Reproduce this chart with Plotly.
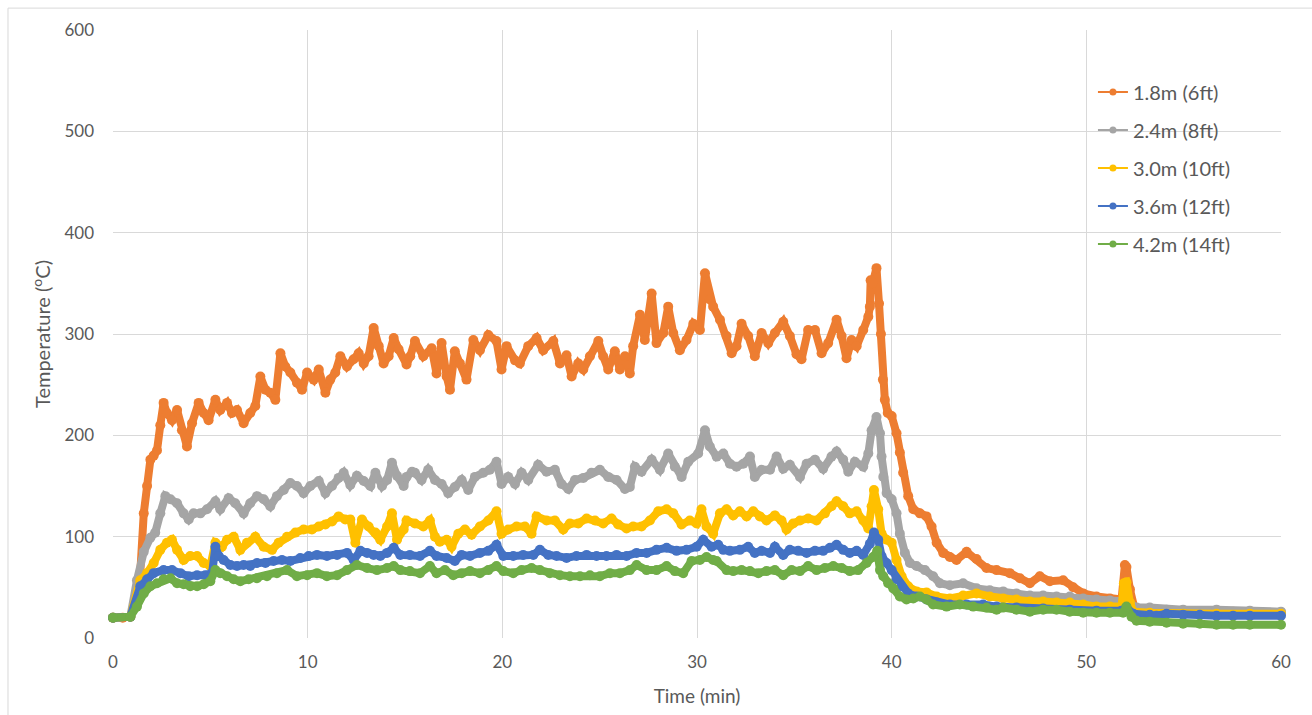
import plotly.graph_objects as go

# Ceiling-jet temperature at several distances, time in minutes
time_18 = [0, 0.5, 0.89, 1.23, 1.40, 1.58, 1.75, 1.92, 2.09, 2.26, 2.43, 2.60, 2.77, 3.03, 3.29, 3.54, 3.80,
           4.06, 4.40, 4.66, 4.91, 5.26, 5.51, 5.86, 6.11, 6.37, 6.71, 7.05, 7.31, 7.57, 7.83, 8.08, 8.34,
           8.60, 8.85, 9.11, 9.45, 9.71, 9.97, 10.31, 10.57, 10.91, 11.16, 11.42, 11.68, 12.02, 12.36, 12.62,
           12.88, 13.13, 13.39, 13.65, 13.90, 14.16, 14.42, 14.67, 15.08, 15.27, 15.51, 15.94, 16.37, 16.62,
           16.88, 17.14, 17.31, 17.56, 17.82, 18.16, 18.51, 18.85, 19.28, 19.70, 19.96, 20.22, 20.65, 20.90,
           21.33, 21.76, 22.10, 22.62, 22.96, 23.30, 23.56, 23.90, 24.16, 24.50, 24.93, 25.18, 25.44, 25.78,
           26.04, 26.30, 26.55, 26.72, 27.07, 27.32, 27.67, 27.92, 28.27, 28.52, 28.78, 29.12, 29.46, 29.81,
           30.15, 30.41, 30.66, 30.83, 31.18, 31.52, 31.78, 32.03, 32.29, 32.63, 32.97, 33.32, 33.66, 34.00,
           34.43, 34.77, 35.11, 35.37, 35.71, 36.06, 36.40, 36.74, 37.17, 37.43, 37.68, 37.94, 38.20, 38.54,
           38.80, 38.88, 38.92, 39.02, 39.22, 39.35, 39.45, 39.55, 39.65, 39.80, 40.00, 40.25, 40.42, 40.59,
           40.85, 41.11, 41.45, 41.79, 42.05, 42.31, 42.65, 42.99, 43.33, 43.85, 44.36, 44.87, 45.39, 46.07,
           46.59, 47.10, 47.61, 48.13, 48.81, 49.32, 49.84, 50.52, 51.21, 51.81, 51.98, 52.06, 52.24, 52.49,
           53.26, 54.12, 55.83, 57.54, 60.0]
temp_18 = [20, 20, 21, 41, 64, 123, 150, 176, 180, 185, 210, 232, 222, 215, 225, 205, 189,
           212, 232, 222, 215, 235, 225, 232, 222, 225, 212, 222, 229, 258, 245, 242, 235,
           281, 268, 262, 252, 245, 262, 255, 265, 242, 255, 262, 278, 268, 275, 281,
           271, 278, 306, 288, 271, 278, 296, 285, 270, 278, 293, 278, 286, 261,
           291, 258, 245, 283, 271, 255, 294, 284, 299, 293, 265, 288, 274, 271,
           288, 296, 284, 293, 271, 279, 258, 271, 265, 278, 293, 278, 265, 283,
           265, 278, 261, 288, 319, 294, 340, 291, 301, 327, 301, 284, 294, 310,
           304, 360, 334, 327, 314, 298, 281, 288, 310, 298, 278, 301, 291, 301,
           312, 298, 280, 275, 304, 304, 281, 291, 314, 298, 276, 294, 288, 304,
           317, 327, 353, 350, 365, 330, 300, 255, 235, 222, 219, 202, 183, 163,
           140, 127, 123, 120, 110, 94, 84, 80, 77, 85, 78, 69, 67, 64,
           59, 54, 61, 56, 57, 50, 44, 41, 39, 38, 72, 70, 48, 28,
           28, 27, 26, 26, 25]

time_24 = [0, 0.89, 1.23, 1.58, 1.92, 2.17, 2.43, 2.69, 2.95, 3.29, 3.63, 3.89, 4.14, 4.49, 4.83, 5.26,
           5.51, 5.94, 6.28, 6.71, 7.05, 7.40, 7.74, 8.08, 8.42, 8.77, 9.11, 9.45, 9.79, 10.14, 10.57,
           10.91, 11.25, 11.59, 11.85, 12.19, 12.53, 12.88, 13.22, 13.48, 13.82, 14.08, 14.33, 14.59,
           14.93, 15.08, 15.36, 15.51, 15.85, 16.19, 16.54, 16.88, 17.22, 17.56, 17.91, 18.25, 18.59,
           19.02, 19.36, 19.70, 19.96, 20.30, 20.65, 20.99, 21.33, 21.84, 22.27, 22.70, 23.04, 23.39,
           23.73, 24.16, 24.58, 25.01, 25.44, 25.87, 26.30, 26.55, 26.81, 27.15, 27.67, 28.09, 28.52,
           28.86, 29.21, 29.55, 30.06, 30.41, 30.66, 31.01, 31.35, 31.69, 32.03, 32.38, 32.72, 32.97,
           33.32, 33.75, 34.09, 34.43, 34.77, 35.29, 35.63, 36.06, 36.48, 36.91, 37.17, 37.51, 37.77,
           38.11, 38.54, 38.80, 38.97, 39.22, 39.40, 39.48, 39.57, 39.74, 40.00, 40.25, 40.42, 40.68,
           40.94, 41.28, 41.71, 42.13, 42.48, 42.99, 43.67, 44.36, 45.04, 45.73, 46.41, 47.10, 47.78,
           48.47, 49.15, 49.84, 50.52, 51.21, 51.89, 52.24, 52.58, 53.26, 54.12, 54.97, 56.69, 58.40, 60.0]
temp_24 = [20, 21, 57, 85, 99, 104, 123, 140, 137, 133, 123, 117, 123, 123, 127, 135,
           127, 138, 133, 123, 133, 140, 137, 130, 140, 146, 153, 150, 143, 150, 155,
           143, 150, 158, 163, 151, 160, 155, 150, 163, 150, 156, 173, 160,
           150, 159, 164, 163, 156, 166, 156, 152, 143, 149, 156, 146, 159,
           163, 166, 174, 152, 159, 152, 163, 156, 171, 164, 166, 152, 147,
           156, 158, 163, 166, 159, 156, 147, 149, 169, 164, 176, 166, 182,
           169, 159, 174, 182, 205, 189, 179, 182, 172, 169, 172, 179, 159,
           166, 166, 179, 167, 171, 159, 172, 176, 167, 179, 184, 176, 164,
           174, 169, 182, 205, 218, 202, 179, 159, 143, 137, 123, 103, 84,
           74, 71, 67, 61, 54, 52, 54, 49, 47, 46, 44, 42, 42,
           41, 41, 39, 38, 37, 36, 34, 30, 30, 28, 28, 28, 27, 26]

time_30 = [0, 0.89, 1.40, 1.75, 2.09, 2.43, 2.77, 3.03, 3.29, 3.63, 3.97, 4.32, 4.66, 5.00, 5.26, 5.60,
           5.86, 6.20, 6.54, 6.88, 7.31, 7.74, 8.17, 8.51, 8.94, 9.37, 9.79, 10.22, 10.57, 10.91, 11.25,
           11.59, 11.93, 12.19, 12.45, 12.79, 13.13, 13.48, 13.73, 14.08, 14.33, 14.59, 14.93, 15.08,
           15.51, 15.94, 16.28, 16.54, 16.79, 17.14, 17.39, 17.74, 18.08, 18.42, 18.85, 19.28, 19.70,
           19.96, 20.30, 20.73, 21.16, 21.50, 21.76, 22.27, 22.70, 23.13, 23.47, 23.90, 24.33, 24.76,
           25.18, 25.61, 25.95, 26.38, 26.72, 27.15, 27.58, 28.01, 28.44, 28.78, 29.21, 29.63, 29.98,
           30.23, 30.49, 30.83, 31.18, 31.52, 31.86, 32.20, 32.55, 32.89, 33.23, 33.57, 34.00, 34.34,
           34.60, 34.94, 35.29, 35.71, 36.14, 36.57, 36.91, 37.17, 37.51, 37.85, 38.20, 38.54, 38.80,
           38.97, 39.09, 39.31, 39.48, 39.74, 40.00, 40.25, 40.51, 40.85, 41.28, 41.79, 42.31, 42.99,
           43.67, 44.36, 45.04, 45.73, 46.41, 47.10, 47.78, 48.47, 49.15, 49.84, 50.52, 51.21, 51.81,
           51.93, 52.06, 52.24, 52.41, 53.26, 54.97, 56.69, 58.40, 60.0]
temp_30 = [20, 21, 57, 64, 74, 87, 94, 97, 87, 77, 81, 81, 74, 71, 94, 90,
           97, 100, 87, 94, 100, 90, 87, 94, 100, 104, 107, 107, 110, 112, 115,
           120, 117, 117, 94, 117, 110, 104, 97, 110, 123, 97, 107, 116,
           113, 110, 116, 100, 95, 97, 90, 103, 107, 102, 110, 116, 125,
           103, 107, 110, 110, 103, 120, 116, 116, 107, 113, 113, 118, 116,
           113, 118, 112, 108, 110, 110, 116, 125, 127, 123, 112, 116, 113,
           127, 110, 103, 123, 127, 121, 125, 120, 125, 120, 116, 121, 116,
           107, 113, 116, 118, 116, 123, 130, 135, 130, 123, 125, 116, 108,
           130, 146, 127, 103, 97, 94, 77, 61, 51, 46, 45, 41, 39,
           42, 44, 41, 39, 38, 36, 36, 35, 35, 33, 31, 31, 31,
           54, 55, 35, 26, 25, 24, 24, 24, 24]

time_36 = [0, 0.89, 1.40, 1.75, 2.09, 2.60, 3.03, 3.46, 3.89, 4.32, 4.74, 5.09, 5.26, 5.43, 5.68, 6.03,
           6.37, 6.71, 7.05, 7.40, 7.83, 8.25, 8.68, 9.11, 9.62, 10.05, 10.48, 10.99, 11.51, 12.02, 12.36,
           12.71, 13.05, 13.39, 13.73, 14.08, 14.42, 14.76, 15.25, 15.77, 16.28, 16.62, 17.14, 17.56,
           17.91, 18.34, 18.85, 19.28, 19.70, 20.05, 20.56, 21.07, 21.59, 21.93, 22.36, 22.79, 23.30,
           23.81, 24.33, 24.84, 25.35, 25.87, 26.38, 26.90, 27.41, 27.92, 28.44, 28.95, 29.46, 29.98,
           30.32, 30.75, 31.09, 31.35, 31.69, 32.20, 32.63, 32.97, 33.32, 33.75, 34.00, 34.43, 34.77,
           35.20, 35.63, 36.06, 36.48, 36.83, 37.17, 37.51, 37.85, 38.20, 38.54, 38.88, 39.09, 39.31,
           39.48, 39.74, 40.00, 40.25, 40.51, 40.85, 41.28, 41.79, 42.31, 42.99, 43.85, 44.70, 45.39,
           46.41, 47.78, 49.15, 50.52, 51.81, 52.06, 52.41, 53.26, 53.60, 54.12, 54.97, 55.83, 56.69,
           57.54, 58.40, 60.0]
temp_36 = [20, 21, 51, 58, 64, 67, 67, 64, 61, 62, 62, 64, 90, 81, 77, 72,
           71, 72, 71, 74, 74, 76, 77, 76, 79, 81, 82, 81, 82, 84, 77,
           86, 84, 82, 81, 84, 89, 82, 82, 81, 86, 81, 79, 76,
           82, 81, 84, 86, 92, 81, 81, 82, 82, 87, 82, 81, 79,
           81, 82, 81, 81, 82, 81, 84, 84, 87, 89, 86, 87, 90,
           97, 90, 92, 87, 86, 87, 90, 84, 86, 84, 90, 82, 87,
           86, 84, 86, 86, 89, 92, 87, 84, 86, 82, 93, 104, 97,
           81, 74, 67, 58, 51, 44, 41, 38, 35, 33, 33, 33, 31,
           30, 29, 28, 27, 27, 30, 24, 23, 22, 24, 23, 23, 22,
           22, 22, 22]

time_42 = [0, 0.89, 1.23, 1.58, 1.92, 2.26, 2.60, 2.95, 3.29, 3.63, 3.97, 4.32, 4.66, 5.00, 5.26, 5.51,
           5.86, 6.20, 6.54, 6.97, 7.40, 7.91, 8.42, 8.94, 9.45, 9.97, 10.48, 10.99, 11.51, 12.02, 12.53,
           13.05, 13.56, 14.08, 14.42, 14.76, 15.25, 15.77, 16.28, 16.62, 17.05, 17.48, 17.91, 18.34,
           18.85, 19.28, 19.70, 20.05, 20.56, 20.99, 21.50, 21.93, 22.44, 22.96, 23.47, 23.99, 24.50,
           25.01, 25.53, 26.04, 26.55, 26.90, 27.41, 27.92, 28.44, 28.86, 29.29, 29.72, 30.15, 30.49,
           30.83, 31.01, 31.52, 31.86, 32.29, 32.72, 33.15, 33.57, 34.00, 34.43, 34.86, 35.29, 35.71,
           36.14, 36.57, 37.00, 37.43, 37.85, 38.28, 38.71, 39.05, 39.26, 39.40, 39.57, 39.82, 40.08,
           40.42, 40.76, 41.11, 41.45, 41.79, 42.13, 42.82, 43.50, 44.19, 44.87, 45.39, 45.73, 46.41,
           47.10, 47.78, 48.47, 49.15, 49.84, 50.52, 51.21, 51.89, 52.06, 52.32, 52.58, 53.26, 54.12,
           54.97, 55.83, 56.69, 57.54, 58.40, 60.0]
temp_42 = [20, 21, 31, 44, 51, 54, 58, 59, 54, 53, 51, 51, 53, 56, 67, 64,
           61, 58, 56, 58, 59, 61, 64, 67, 61, 62, 64, 61, 62, 67, 72,
           69, 67, 69, 71, 67, 66, 64, 71, 64, 67, 62, 64, 66,
           64, 67, 71, 66, 64, 67, 69, 67, 64, 62, 61, 61, 62,
           61, 64, 64, 67, 72, 67, 67, 71, 66, 64, 76, 77, 80,
           77, 76, 67, 66, 67, 66, 64, 66, 67, 62, 67, 66, 71,
           67, 69, 71, 69, 66, 67, 74, 80, 86, 67, 61, 54, 49,
           41, 38, 39, 41, 38, 33, 31, 33, 31, 30, 28, 30, 28,
           26, 28, 28, 26, 25, 25, 25, 25, 31, 21, 17, 16, 15,
           14, 14, 13, 13, 13, 13]

series = [
    ("1.8m (6ft)", time_18, temp_18, "#ED7D31"),
    ("2.4m (8ft)", time_24, temp_24, "#A5A5A5"),
    ("3.0m (10ft)", time_30, temp_30, "#FFC000"),
    ("3.6m (12ft)", time_36, temp_36, "#4472C4"),
    ("4.2m (14ft)", time_42, temp_42, "#70AD47"),
]

FONT = "Lato, 'Noto Sans', sans-serif"
TXT = "#595959"
GRID = "#D9D9D9"

fig = go.Figure()

# dense marker bands for each measurement height
for name, t, v, c in series:
    fig.add_trace(go.Scatter(
        x=t, y=v, mode="lines+markers", name=name, showlegend=False,
        line=dict(color=c, width=8), marker=dict(color=c, size=10),
        cliponaxis=False,
    ))

# legend entries drawn with a thin line and a single marker
for i, (name, t, v, c) in enumerate(series):
    fig.add_trace(go.Scatter(
        x=[None], y=[None], mode="lines+markers", name=name,
        legendgroup=f"g{i}",
        line=dict(color=c, width=2), marker=dict(color=c, size=7),
    ))

fig.update_layout(
    width=1312, height=715,
    margin=dict(l=113, r=31, t=30, b=77),
    paper_bgcolor="white", plot_bgcolor="white",
    font=dict(family=FONT, color=TXT, size=17),
    showlegend=True,
    legend=dict(
        x=0.839, y=0.93, xanchor="left", yanchor="top",
        bgcolor="rgba(0,0,0,0)", font=dict(size=20, color=TXT),
        traceorder="grouped", tracegroupgap=9,
        itemwidth=30,
    ),
    xaxis=dict(
        range=[0, 60], dtick=10, tick0=0, automargin=False,
        showgrid=True, gridcolor=GRID, gridwidth=1,
        zeroline=False, showline=False, ticks="",
        tickfont=dict(size=17, color=TXT), ticklabelstandoff=12,
        title=dict(text="Time (min)", font=dict(size=19, color=TXT), standoff=18),
    ),
    yaxis=dict(
        range=[0, 600], dtick=100, tick0=0, automargin=False,
        showgrid=True, gridcolor=GRID, gridwidth=1,
        zeroline=False, showline=False, ticks="",
        tickfont=dict(size=17, color=TXT), ticklabelstandoff=18,
        title=dict(text="Temperature (<sup>o</sup>C)", font=dict(size=20, color=TXT), standoff=8),
    ),
    shapes=[dict(
        type="rect", xref="paper", yref="paper", layer="below",
        x0=-0.0899, x1=1.04, y0=-0.14, y1=1.036,
        line=dict(color=GRID, width=1), fillcolor="rgba(0,0,0,0)",
    )],
)

fig.write_html("out.html")
